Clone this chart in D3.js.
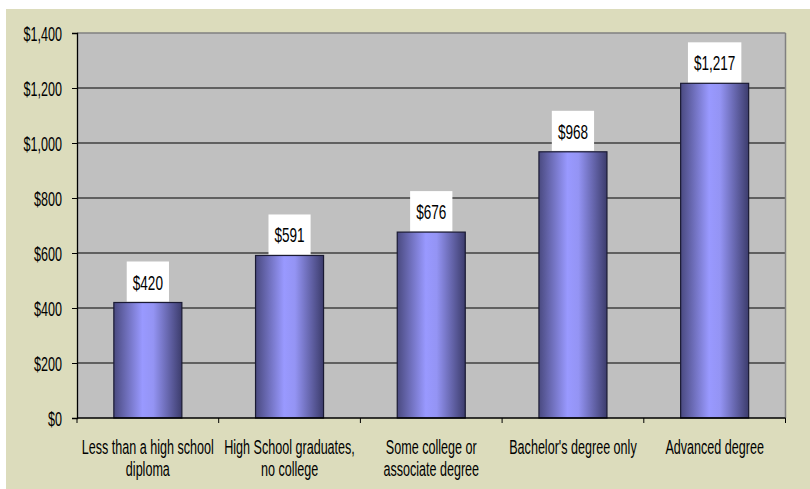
<!DOCTYPE html>
<html><head><meta charset="utf-8">
<script src="https://cdn.jsdelivr.net/npm/d3@7"></script>
<style>
html,body{margin:0;padding:0;background:#fff;}
svg{display:block;}
</style></head>
<body>
<svg id="chart" width="810" height="489"></svg>
<script>
const categories = [
  ["Less than a high school", "diploma"],
  ["High School graduates,", "no college"],
  ["Some college or", "associate degree"],
  ["Bachelor's degree only"],
  ["Advanced degree"]
];
const values = [420, 591, 676, 968, 1217];
const yTicks = [0, 200, 400, 600, 800, 1000, 1200, 1400];

const font = "'Liberation Sans', Arial, sans-serif";
const SX = 0.645;
const svg = d3.select("#chart");
const W = 810, H = 489;
const plot = {left: 77, right: 785.5, top: 33, bottom: 418};

svg.append("rect").attr("x", 6).attr("y", 9).attr("width", W - 6).attr("height", H - 9).attr("fill", "#DCDCBC");

const x = d3.scaleBand().domain(d3.range(values.length)).range([plot.left, plot.right]).paddingInner(0.52).paddingOuter(0.26);
const xc = d3.scaleBand().domain(d3.range(values.length)).range([plot.left, plot.right]);
const y = d3.scaleLinear().domain([0, 1400]).range([plot.bottom, plot.top]);

const defs = svg.append("defs");
const g = defs.append("linearGradient").attr("id", "barg").attr("x1", "0").attr("x2", "1").attr("y1", "0").attr("y2", "0");
g.append("stop").attr("offset", "0").attr("stop-color", "#4A4A80");
g.append("stop").attr("offset", "0.42").attr("stop-color", "#9999FF");
g.append("stop").attr("offset", "0.58").attr("stop-color", "#9494F4");
g.append("stop").attr("offset", "1").attr("stop-color", "#3C3C6C");

svg.append("rect").attr("x", plot.left).attr("y", plot.top).attr("width", plot.right - plot.left).attr("height", plot.bottom - plot.top).attr("fill", "#C0C0C0");

// gridlines
svg.append("g").selectAll("line").data(yTicks.filter(t => t > 0 && t < 1400)).join("line")
  .attr("x1", plot.left).attr("x2", plot.right).attr("y1", d => y(d)).attr("y2", d => y(d))
  .attr("stroke", "#000").attr("stroke-width", 1);
// top and right border
svg.append("line").attr("x1", plot.left).attr("x2", plot.right).attr("y1", plot.top).attr("y2", plot.top).attr("stroke", "#808080").attr("stroke-width", 1.5);
svg.append("line").attr("x1", plot.right).attr("x2", plot.right).attr("y1", plot.top).attr("y2", plot.bottom).attr("stroke", "#808080").attr("stroke-width", 1.5);

// bars
svg.append("g").selectAll("rect").data(values).join("rect")
  .attr("x", (d, i) => x(i)).attr("y", d => y(d))
  .attr("width", x.bandwidth()).attr("height", d => plot.bottom - y(d))
  .attr("fill", "url(#barg)").attr("stroke", "#1a1a33").attr("stroke-width", 1.2);

// y axis
const yAxis = d3.axisLeft(y).tickValues(yTicks).tickSize(5).tickPadding(10)
  .tickFormat(d => "$" + d3.format(",")(d));
const ya = svg.append("g").attr("transform", `translate(${plot.left},0)`).call(yAxis);
ya.select(".domain").attr("stroke", "#000").attr("stroke-width", 1.3);
ya.selectAll(".tick line").attr("stroke", "#000");
ya.selectAll(".tick text").each(function() {
  const t = d3.select(this);
  t.attr("font-family", font).attr("font-size", 19.5).attr("fill", "#000")
   .attr("x", null).attr("dy", "0.36em")
   .attr("transform", `translate(-15,0) scale(${SX},1)`);
});

// x axis
const xa = svg.append("g").attr("transform", `translate(0,${plot.bottom})`);
xa.append("line").attr("x1", plot.left).attr("x2", plot.right).attr("stroke", "#000").attr("stroke-width", 1.3);
xa.selectAll("line.tk").data(d3.range(values.length + 1)).join("line").attr("class", "tk")
  .attr("x1", i => plot.left + i * xc.bandwidth()).attr("x2", i => plot.left + i * xc.bandwidth())
  .attr("y1", 0).attr("y2", 5).attr("stroke", "#000");
const lab = xa.selectAll("g.lab").data(categories).join("g").attr("class", "lab")
  .attr("transform", (d, i) => `translate(${xc(i) + xc.bandwidth() / 2},36) scale(${SX},1)`);
lab.each(function(lines) {
  const t = d3.select(this).append("text").attr("text-anchor", "middle")
    .attr("font-family", font).attr("font-size", 19.5).attr("fill", "#000");
  lines.forEach((l, j) => t.append("tspan").attr("x", 0).attr("y", j * 22.5).text(l));
});

// value labels
const vl = svg.append("g").selectAll("g").data(values).join("g")
  .attr("transform", (d, i) => `translate(${x(i) + x.bandwidth() / 2},${y(d)})`);
vl.each(function(d) {
  const gg = d3.select(this);
  const box = gg.append("rect").attr("fill", "#fff");
  const t = gg.append("text").attr("text-anchor", "middle").attr("y", -13)
    .attr("font-family", font).attr("font-size", 21).attr("fill", "#000")
    .attr("transform", `scale(${SX},1)`)
    .text("$" + d3.format(",")(d));
  const w = t.node().getBBox().width * SX;
  box.attr("x", -w / 2 - 6).attr("y", -41).attr("width", w + 12).attr("height", 40);
});
</script>
</body></html>
